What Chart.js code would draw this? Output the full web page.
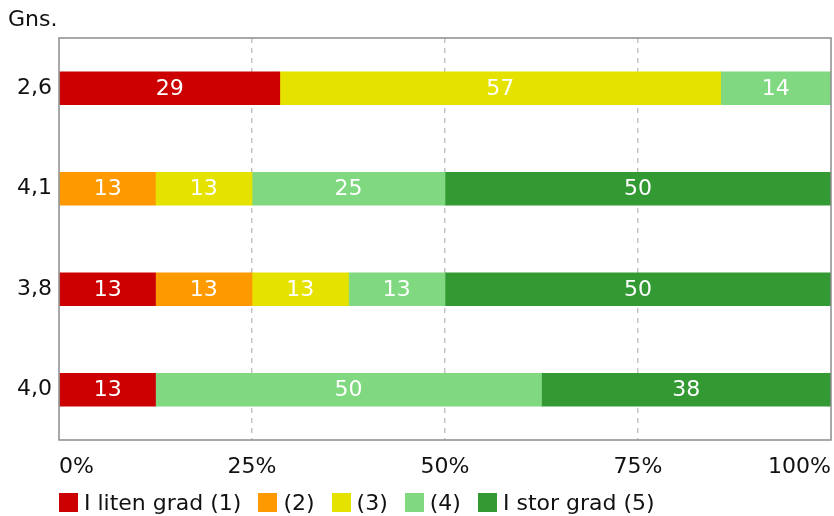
<!DOCTYPE html>
<html>
<head>
<meta charset="utf-8">
<script src="https://cdn.jsdelivr.net/npm/chart.js@4/dist/chart.umd.min.js"></script>
<style>
  html, body { margin: 0; padding: 0; background: #fff; }
  #wrap { position: relative; width: 834px; height: 516px; }
  #legend { position: absolute; left: 59px; top: 490px; display: flex; align-items: center;
    font-family: "DejaVu Sans", Verdana, sans-serif; font-size: 22px; color: #111; white-space: nowrap; }
  .item { display: flex; align-items: center; margin-right: 17px; }
  .box { width: 19px; height: 19px; margin-right: 6px; }
</style>
</head>
<body>
<div id="wrap">
  <canvas id="c" width="834" height="516"></canvas>
  <div id="legend"></div>
</div>
<script>
const categories = ['2,6', '4,1', '3,8', '4,0'];
const seriesNames = ['I liten grad (1)', '(2)', '(3)', '(4)', 'I stor grad (5)'];
const s1 = [28.6, null, 12.5, 12.5];
const s2 = [null, 12.5, 12.5, null];
const s3 = [57.1, 12.5, 12.5, null];
const s4 = [14.3, 25, 12.5, 50];
const s5 = [null, 50, 50, 37.5];
const xTicks = [0, 25, 50, 75, 100];
const colors = ['#cc0000', '#ff9900', '#e6e200', '#80d880', '#339933'];

const FONT = '"DejaVu Sans", Verdana, sans-serif';
const allSeries = [s1, s2, s3, s4, s5];

const datasets = allSeries.map((d, i) => ({
  label: seriesNames[i],
  data: d,
  backgroundColor: colors[i],
  borderWidth: 0,
  barThickness: 33
}));

const valueLabels = {
  id: 'valueLabels',
  afterDatasetsDraw(chart) {
    const ctx = chart.ctx;
    ctx.save();
    ctx.font = '22px ' + FONT;
    ctx.fillStyle = '#ffffff';
    ctx.textAlign = 'center';
    ctx.textBaseline = 'middle';
    chart.data.datasets.forEach((ds, di) => {
      const meta = chart.getDatasetMeta(di);
      meta.data.forEach((el, j) => {
        const v = ds.data[j];
        if (v == null) return;
        const x = (el.x + el.base) / 2;
        ctx.fillText(String(Math.round(v)), x, el.y + 1);
      });
    });
    ctx.restore();
  }
};

const frame = {
  id: 'frame',
  afterDraw(chart) {
    const a = chart.chartArea;
    const ctx = chart.ctx;
    ctx.save();
    ctx.strokeStyle = '#8c8c8c';
    ctx.lineWidth = 1.5;
    ctx.strokeRect(a.left, a.top, a.right - a.left, a.bottom - a.top);
    ctx.font = '22px ' + FONT;
    ctx.fillStyle = '#111';
    ctx.textAlign = 'left';
    ctx.textBaseline = 'middle';
    ctx.fillText('Gns.', 8, 20);
    ctx.restore();
  }
};

new Chart(document.getElementById('c'), {
  type: 'bar',
  data: { labels: categories, datasets },
  plugins: [valueLabels, frame],
  options: {
    indexAxis: 'y',
    responsive: false,
    animation: false,
    layout: { padding: { top: 38, right: 3, bottom: 0, left: 0 } },
    plugins: { legend: { display: false }, tooltip: { enabled: false } },
    scales: {
      x: {
        stacked: true,
        min: 0, max: 100,
        afterBuildTicks(scale) { scale.ticks = xTicks.map(v => ({ value: v })); },
        afterFit(scale) { scale.height = 76; scale.paddingLeft = 0; scale.paddingRight = 0; },
        border: { display: false, dash: [5, 5] },
        grid: {
          drawTicks: false,
          color: c => (c.tick && (c.tick.value === 0 || c.tick.value === 100)) ? 'rgba(0,0,0,0)' : '#c4c4c4',
          lineWidth: 1.5
        },
        ticks: {
          align: 'inner',
          padding: 14,
          color: '#111',
          font: { family: FONT, size: 22 },
          callback: v => v + '%'
        }
      },
      y: {
        stacked: true,
        afterFit(scale) { scale.width = 59; scale.paddingTop = 0; scale.paddingBottom = 0; },
        border: { display: false },
        grid: { display: false, drawTicks: false },
        ticks: {
          padding: 7,
          color: '#111',
          font: { family: FONT, size: 22 }
        }
      }
    }
  }
});

const leg = document.getElementById('legend');
seriesNames.forEach((n, i) => {
  const it = document.createElement('div');
  it.className = 'item';
  const b = document.createElement('div');
  b.className = 'box';
  b.style.background = colors[i];
  const t = document.createElement('span');
  t.textContent = n;
  it.appendChild(b); it.appendChild(t);
  leg.appendChild(it);
});
</script>
</body>
</html>
